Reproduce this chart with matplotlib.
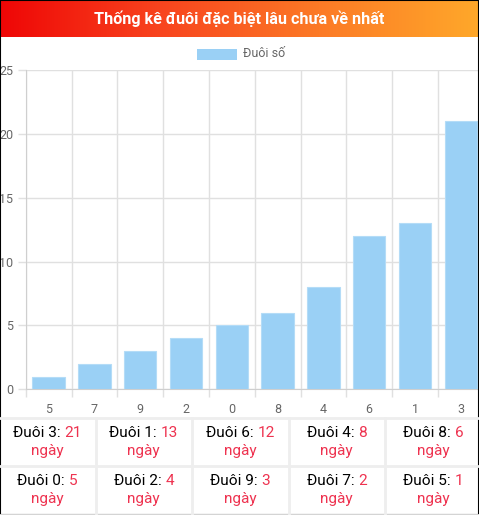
import numpy as np
import matplotlib
matplotlib.use('Agg')
import matplotlib.pyplot as plt
from matplotlib.colors import LinearSegmentedColormap
from matplotlib.patches import Rectangle
from matplotlib.lines import Line2D

plt.rcParams['font.family'] = ['Roboto', 'DejaVu Sans']

# dữ liệu
tails = ['5', '7', '9', '2', '0', '8', '4', '6', '1', '3']
days = [1, 2, 3, 4, 5, 6, 8, 12, 13, 21]
title = 'Thống kê đuôi đặc biệt lâu chưa về nhất'
series_name = 'Đuôi số'

W, H = 479, 515
fig = plt.figure(figsize=(W / 100, H / 100), dpi=100)


def fx(px):
    return px / W


def fy(py):
    return 1 - py / H


# header with gradient
hdr = fig.add_axes([0, fy(37), 1, 37 / H])
grad = LinearSegmentedColormap.from_list('hdr', ['#ef0606', '#f8441e', '#fc7a26', '#ffa82a'])
hdr.imshow(np.linspace(0, 1, 256).reshape(1, -1), cmap=grad, aspect='auto', extent=[0, 1, 0, 1])
hdr.set_axis_off()
fig.text(0.5, fy(18.5), title, color='white', fontsize=11.6, fontweight='bold',
         ha='center', va='center')

# legend
fig.patches.append(Rectangle((fx(197), fy(59.5)), 39.5 / W, 10.5 / H, transform=fig.transFigure,
                             facecolor='#9ad0f5', edgecolor='none'))
fig.text(fx(243), fy(53.5), series_name, color='#666666', fontsize=9, ha='left', va='center')

# chart
left, right = 25.7, 483.7
top, bottom = 70, 389.3
ax = fig.add_axes([fx(left), fy(bottom), (right - left) / W, (bottom - top) / H])
x = np.arange(len(tails))
ax.bar(x, days, width=0.71, color='#9ad0f5', edgecolor='#b4dcf7', linewidth=0.8, zorder=3)
ax.set_xlim(-0.5, len(tails) - 0.5)
ax.set_ylim(0, 25)
ax.set_yticks(range(0, 26, 5))
ax.set_xticks(x)
ax.set_xticklabels(tails)
ax.set_xticks(np.arange(-0.5, len(tails)), minor=True)
ax.grid(True, which='minor', axis='x', color='#e0e0e0', linewidth=1, zorder=0)
ax.grid(True, which='major', axis='y', color='#e0e0e0', linewidth=1, zorder=0)
ax.tick_params(axis='x', which='major', length=0, pad=10, labelsize=9, labelcolor='#666666')
ax.tick_params(axis='x', which='minor', length=6, color='#e0e0e0', width=1)
ax.tick_params(axis='y', length=6, color='#e0e0e0', width=1, pad=3, labelsize=9,
               labelcolor='#666666')
for side in ['top', 'right']:
    ax.spines[side].set_visible(False)
ax.spines['left'].set_color('#cfcfcf')
ax.spines['bottom'].set_color('#cfcfcf')

# bảng
order = sorted(range(len(tails)), key=lambda i: -days[i])
col_w = 96.5
row_tops = [417.7, 465.7]
line_c = '#eeeeee'
for yy in row_tops + [515]:
    fig.lines.append(Line2D([0, 1], [fy(yy), fy(yy)], transform=fig.transFigure,
                            color=line_c, linewidth=2))
for k in range(1, 5):
    xx = k * col_w - 1
    fig.lines.append(Line2D([fx(xx), fx(xx)], [fy(417.7), fy(515)], transform=fig.transFigure,
                            color=line_c, linewidth=2))

red = '#ee3350'
renderer = fig.canvas.get_renderer()
for n, i in enumerate(order):
    r, c = divmod(n, 5)
    cx = c * col_w + col_w / 2 - 1
    y1 = row_tops[r] + 15.5
    y2 = row_tops[r] + 33.5
    a = fig.text(0, fy(y1), f'Đuôi {tails[i]}: ', fontsize=11.1, color='black',
                 ha='left', va='center')
    b = fig.text(0, fy(y1), str(days[i]), fontsize=11.1, color=red, ha='left', va='center')
    wa = a.get_window_extent(renderer).width
    wb = b.get_window_extent(renderer).width
    x0 = cx - (wa + wb) / 2
    a.set_x(fx(x0))
    b.set_x(fx(x0 + wa))
    fig.text(fx(cx), fy(y2), 'ngày', fontsize=11.1, color=red, ha='center', va='center')

# viền ngoài
fig.patches.append(Rectangle((0, 0), 1, 1, transform=fig.transFigure, fill=False,
                             edgecolor='black', linewidth=1.5))

fig.savefig('out.png', dpi=100)
